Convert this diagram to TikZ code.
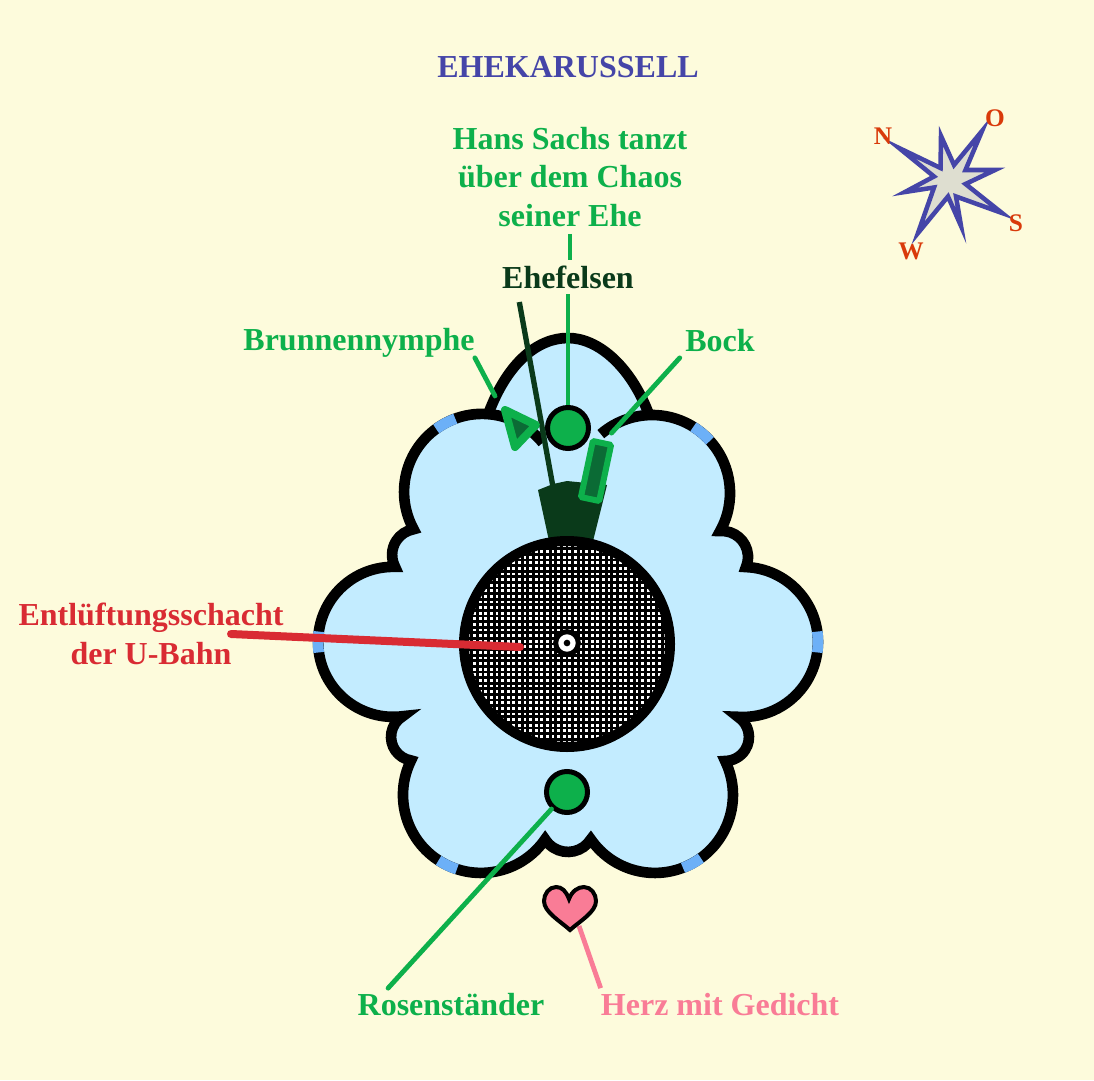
\documentclass[tikz,border=0pt]{standalone}
\usepackage{fontspec}
\setmainfont{Liberation Serif}
\usepackage{xcolor}
\definecolor{papier}{HTML}{FDFBDC}
\definecolor{wasser}{HTML}{C3ECFF}
\definecolor{kante}{HTML}{6CB0F7}
\definecolor{gruen}{HTML}{0DB04B}
\definecolor{dunkel}{HTML}{0A3A1A}
\definecolor{mittel}{HTML}{0B6B35}
\definecolor{rot}{HTML}{D92B33}
\definecolor{rosa}{HTML}{F97C96}
\definecolor{titel}{HTML}{4545A8}
\definecolor{himmel}{HTML}{D93A0A}
\definecolor{stern}{HTML}{DEDED0}
% Bogen: Mitte x, Mitte y, Radius, Startwinkel, Endwinkel
\newcommand{\bogen}[5]{({#1+#3*cos(#4)},{#2+#3*sin(#4)}) arc[start angle=#4,end angle=#5,radius=#3]}
\newcommand{\weiter}[3]{arc[start angle=#2,end angle=#3,radius=#1]}
% Umriss des Beckens
\newcommand{\becken}{\bogen{652}{493}{78}{229}{389.2}
    \weiter{26}{265.8}{382.8}
    \weiter{75}{-87.7}{93.8}
    \weiter{24}{-57.1}{89.5}
    \weiter{78}{-25.8}{145.3}
    \weiter{27}{32.2}{147.8}
    \weiter{78}{34.7}{206.2}
    \weiter{24}{99.7}{239.2}
    \weiter{75}{82.6}{271.5}
    \weiter{26}{152.4}{260}
    \weiter{78}{151.4}{321}}

\begin{document}
\begin{tikzpicture}[x=0.75pt,y=-0.75pt]
% Stile
\tikzstyle{umriss} = [
    draw=black,
    line width=8pt,
    line join=miter
]
\tikzstyle{akzent} = [
    draw=kante,
    line width=8pt
]
\tikzstyle{beschrift} = [
    font=\fontsize{24}{29}\selectfont\bfseries,
    align=center,
    inner sep=0pt
]
\tikzstyle{himmelsr} = [
    font=\fontsize{19}{24}\selectfont\bfseries,
    text=himmel,
    inner sep=0pt
]
\tikzstyle{saeule} = [
    circle,
    draw=black,
    fill=gruen,
    line width=3.75pt,
    minimum size=30.75pt,
    inner sep=0pt
]
\tikzstyle{leitung} = [
    draw=gruen,
    line width=3.6pt,
    line cap=round
]

\useasboundingbox (0,0) rectangle (1094,1080);
\fill[papier] (0,0) rectangle (1094,1080);

% Becken
\fill[wasser] (489,412) .. controls (508,362) and (538,338) .. (568,338)
    .. controls (598,338) and (630,366) .. (648,412) -- (568,470) -- cycle;
\fill[wasser] \becken -- cycle;
\draw[umriss] (489,412) .. controls (508,362) and (538,338) .. (568,338)
    .. controls (598,338) and (630,366) .. (648,412);
\draw[umriss] \becken;

% Kanten
\draw[akzent] \bogen{482}{492}{78}{234}{250};
\draw[akzent] \bogen{652}{493}{78}{302}{318};
\draw[akzent] \bogen{481}{795}{78}{108}{123};
\draw[akzent] \bogen{655}{795}{78}{54}{69};
\draw[akzent] \bogen{393}{642}{75}{172}{188};
\draw[akzent] \bogen{743}{642}{75}{-8}{8};

% Fels
\fill[dunkel] (538,490) -- (553,484) -- (567,481) -- (607,485) -- (593,541) -- (549,541) -- cycle;

% Knoten
\node[circle,draw=black,fill=white,line width=7.5pt,minimum size=154.5pt,inner sep=0pt,
    path picture={
        \foreach \i in {-20,...,20} {
            \draw[line width=2pt] (\i*5.6,-120) -- (\i*5.6,120);
            \draw[line width=2pt] (-120,\i*5.6) -- (120,\i*5.6);
        }
    }] (schacht) at (567,644) {};
\node[circle,draw=black,fill=white,line width=3.75pt,minimum size=17pt,inner sep=0pt] (auge) at (567,643) {};
\node[circle,fill=black,minimum size=5pt,inner sep=0pt] (pupille) at (567,643) {};

\node[saeule] (figur) at (568,428) {};
\node[saeule] (rose) at (567,792) {};

\node[rectangle,rounded corners=1pt,draw=gruen,fill=mittel,line width=4.5pt,
    minimum width=14pt,minimum height=43pt,inner sep=0pt,rotate=-12] (bockkasten) at (596,471) {};

\coordinate (felsen) at (553,487);
\coordinate (nymphe) at (495,396);
\coordinate (schachtende) at (520,647);
\coordinate (herz) at (579,926);

% Texte
\node[beschrift,text=titel] (ueberschrift) at (568,67) {EHEKARUSSELL};
\node[beschrift,text=gruen] (hans) at (570,177) {Hans Sachs tanzt\\über dem Chaos\\seiner Ehe};
\node[beschrift,text=dunkel,inner ysep=4pt] (ehefelsen) at (568,277) {Ehefelsen};
\node[beschrift,text=gruen] (brunnen) at (359,343) {Brunnennymphe};
\node[beschrift,text=gruen] (bock) at (720,341) {Bock};
\node[beschrift,text=rot] (schachttext) at (151,634) {Entlüftungsschacht\\der U-Bahn};
\node[beschrift,text=gruen] (rosentext) at (451,1005) {Rosenständer};
\node[beschrift,text=rosa] (herztext) at (720,1005) {Herz mit Gedicht};

% Linien
\draw[leitung,line cap=butt,shorten <=5pt] (hans.south) -- (hans.south |- ehefelsen.north);
\draw[leitung,line cap=butt] (ehefelsen.south) -- (figur);
\draw[leitung] (brunnen.south east) -- (nymphe);
\draw[leitung,shorten >=7pt] ([xshift=-4pt,yshift=-4pt]bock.south west) -- ([xshift=2pt]bockkasten.north);
\draw[leitung] ([xshift=23pt,yshift=4pt]rosentext.north west) -- (rose);
\draw[draw=rosa,line width=3.6pt] ([yshift=4pt]herztext.north west) -- (herz);
\draw[draw=dunkel,line width=4pt] ([xshift=13pt,yshift=-6pt]ehefelsen.south west) -- (felsen);
\draw[draw=rot,line width=6pt,line cap=round] ([xshift=60pt]schachttext.center) -- (schachtende);

% Nymphe
\draw[draw=gruen,fill=mittel,line width=6pt,line join=round] (505,410) -- (536,425) -- (515,447) -- cycle;

% Herz
\draw[draw=black,fill=rosa,line width=3pt] (569,899) .. controls (572,891) and (578,887) .. (584,887)
    .. controls (591,887) and (596,894) .. (596,901)
    .. controls (596,912) and (580,921) .. (570,930)
    .. controls (560,921) and (544,912) .. (544,901)
    .. controls (544,894) and (549,887) .. (556,887)
    .. controls (562,887) and (566,891) .. (569,899) -- cycle;

% Windrose
\draw[draw=titel,fill=stern,line width=3.4pt] (899,148) -- (940.5,168) -- (941,136) -- (954,165)
    -- (982,131) -- (965.5,170) -- (995,170) -- (965.5,184) -- (1002,213) -- (956,196.5)
    -- (961,226) -- (948,196.5) -- (918,233) -- (934,187.5) -- (905,192) -- (934,176.5) -- cycle;
\node[himmelsr] (nord) at (883,136) {N};
\node[himmelsr] (ost) at (995,118) {O};
\node[himmelsr] (sued) at (1016,223) {S};
\node[himmelsr] (west) at (911,251) {W};

\end{tikzpicture}
\end{document}
